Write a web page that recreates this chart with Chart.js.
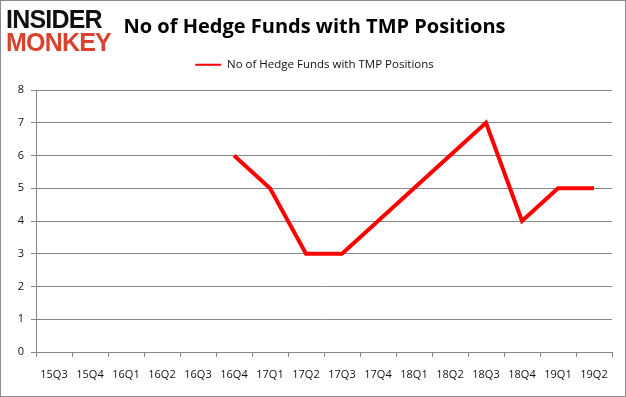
<!DOCTYPE html>
<html>
<head>
<meta charset="utf-8">
<script src="https://cdn.jsdelivr.net/npm/chart.js@4"></script>
<style>
  body { margin: 0; background: #fff; }
  #wrap { position: relative; width: 626px; height: 397px; box-sizing: border-box; border: 1px solid #8c8c8c; overflow: hidden; }
  #chart { position: absolute; left: 0; top: 0; }
  .logo { position: absolute; left: 5px; font-family: "Liberation Sans", Arial, sans-serif; font-weight: bold; font-size: 25px; letter-spacing: -0.8px; line-height: 1; }
  #logo1 { top: 6px; color: #111; }
  #logo2 { top: 29px; color: #d8422e; }
</style>
</head>
<body>
<div id="wrap">
  <canvas id="chart" width="626" height="397"></canvas>
  <div class="logo" id="logo1">INSIDER</div>
  <div class="logo" id="logo2">MONKEY</div>
</div>
<script>
const quarters = ['15Q3', '15Q4', '16Q1', '16Q2', '16Q3', '16Q4', '17Q1', '17Q2', '17Q3', '17Q4', '18Q1', '18Q2', '18Q3', '18Q4', '19Q1', '19Q2'];
const fundCounts = [null, null, null, null, null, 6, 5, 3, 3, 4, 5, 6, 7, 4, 5, 5];
const yTicks = [0, 1, 2, 3, 4, 5, 6, 7, 8];
const seriesName = 'No of Hedge Funds with TMP Positions';

const gridColor = '#878787';
const font = 'Open Sans';

const ctx = document.getElementById('chart').getContext('2d');
const chart = new Chart(ctx, {
    type: 'line',
    data: {
        labels: quarters,
        datasets: [{
            label: seriesName,
            data: fundCounts,
            borderColor: '#ff0000',
            backgroundColor: '#ff0000',
            borderWidth: 4,
            pointRadius: 0,
            tension: 0,
            fill: false
        }]
    },
    options: {
        responsive: false,
        animation: false,
        devicePixelRatio: 1,
        layout: { padding: { left: 1, right: 0, top: 0, bottom: 0 } },
        plugins: {
            title: {
                display: true,
                text: 'No of Hedge Funds with TMP Positions',
                color: '#000',
                font: { family: font, size: 20, weight: 'bold' },
                padding: { top: 14, bottom: 2 }
            },
            // empty subtitle used as a spacer between the legend and the plot
            subtitle: {
                display: true,
                text: '',
                weight: 500,
                font: { size: 8, lineHeight: 1.2 },
                padding: 0
            },
            legend: {
                display: true,
                labels: {
                    color: '#111',
                    font: { family: font, size: 11.5 },
                    boxWidth: 26,
                    boxHeight: 2,
                    padding: 18,
                    // thin legend line, no stroke around the box
                    generateLabels: c => Chart.defaults.plugins.legend.labels.generateLabels(c)
                        .map(item => ({ ...item, lineWidth: 0 }))
                }
            },
            tooltip: { enabled: false }
        },
        scales: {
            x: {
                offset: true,
                afterFit: scale => { scale.height = 46; },
                grid: {
                    offset: true,
                    drawOnChartArea: false,
                    color: gridColor,
                    tickLength: 5
                },
                border: { color: gridColor },
                ticks: {
                    color: '#111',
                    font: { family: font, size: 11 },
                    padding: 11,
                    maxRotation: 0,
                    autoSkip: false
                }
            },
            y: {
                min: yTicks[0],
                max: yTicks[yTicks.length - 1],
                afterFit: scale => { scale.width = 34; },
                afterBuildTicks: scale => { scale.ticks = yTicks.map(v => ({ value: v })); },
                grid: {
                    color: gridColor,
                    tickLength: 5
                },
                border: { color: gridColor },
                ticks: {
                    color: '#111',
                    font: { family: font, size: 11 },
                    padding: 7
                }
            },
            // empty right axis, only keeps the right margin so title and legend stay centred on the page
            yRight: {
                position: 'right',
                afterFit: scale => { scale.width = 15; },
                grid: { display: false },
                border: { display: false },
                ticks: { display: false }
            }
        }
    }
});
</script>
</body>
</html>
